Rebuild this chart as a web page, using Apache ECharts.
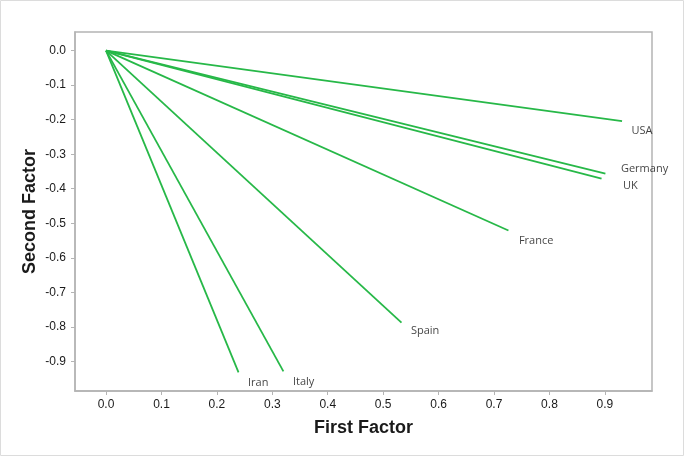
<!DOCTYPE html>
<html>
<head>
<meta charset="utf-8">
<script src="https://cdn.jsdelivr.net/npm/echarts@6/dist/echarts.min.js"></script>
<style>
  html, body { margin: 0; padding: 0; background: #fff; }
  #chart { width: 686px; height: 457px; }
</style>
</head>
<body>
<div id="chart"></div>
<script>
// loadings
const countries = ["USA", "Germany", "UK", "France", "Spain", "Italy", "Iran"];
const firstFactor = [0.931, 0.901, 0.894, 0.726, 0.533, 0.320, 0.239];
const secondFactor = [-0.204, -0.356, -0.371, -0.521, -0.788, -0.929, -0.932];

const xTicks = [0, 0.1, 0.2, 0.3, 0.4, 0.5, 0.6, 0.7, 0.8, 0.9];
const yTicks = [0, -0.1, -0.2, -0.3, -0.4, -0.5, -0.6, -0.7, -0.8, -0.9];

// where each country name sits relative to the end of its line (px)
const labelOffsets = [[10, 10], [16, -4], [22, 8], [11, 11], [10, 9], [10, 11], [10, 11]];

const lineColor = "#27b848";
const frameColor = "#b4b4b4";

const chart = echarts.init(document.getElementById("chart"));

// one straight line per country, from the origin to its loading
const lineSeries = countries.map((name, i) => ({
    name: name,
    type: "line",
    data: [[0, 0], [firstFactor[i], secondFactor[i]]],
    showSymbol: false,
    lineStyle: { color: lineColor, width: 1.8 },
    silent: true,
}));

// names next to the line ends
const labelSeries = {
    type: "scatter",
    symbolSize: 1,
    itemStyle: { color: "rgba(0,0,0,0)" },
    silent: true,
    data: countries.map((name, i) => ({
        value: [firstFactor[i], secondFactor[i]],
        name: name,
        label: {
            show: true,
            position: labelOffsets[i],
            formatter: "{b}",
            align: "left",
            verticalAlign: "middle",
            fontFamily: "Open Sans",
            fontSize: 11,
            color: "#111",
        },
    })),
};

const option = {
    animation: false,
    grid: {
        left: 75,
        right: 34,
        top: 32,
        bottom: 66,
        show: true,
        borderColor: frameColor,
        borderWidth: 1.5,
    },
    xAxis: {
        type: "value",
        min: -0.056,
        max: 0.985,
        name: "First Factor",
        nameLocation: "middle",
        nameGap: 28,
        nameMoveOverlap: false,
        nameTextStyle: { fontFamily: "Liberation Sans", fontWeight: "bold", fontSize: 18, color: "#1a1a1a" },
        axisLine: { show: true, onZero: false, lineStyle: { color: frameColor, width: 1.5 } },
        axisTick: { show: true, length: 4, customValues: xTicks, lineStyle: { color: frameColor } },
        axisLabel: {
            customValues: xTicks,
            margin: 8,
            fontFamily: "Liberation Sans",
            fontSize: 12,
            color: "#1a1a1a",
            formatter: v => v.toFixed(1),
        },
        splitLine: { show: false },
    },
    yAxis: {
        type: "value",
        min: -0.986,
        max: 0.054,
        name: "Second Factor",
        nameLocation: "middle",
        nameGap: 36,
        nameMoveOverlap: false,
        nameTextStyle: { fontFamily: "Liberation Sans", fontWeight: "bold", fontSize: 18, color: "#1a1a1a" },
        axisLine: { show: true, onZero: false, lineStyle: { color: frameColor, width: 1.5 } },
        axisTick: { show: true, length: 4, customValues: yTicks, lineStyle: { color: frameColor } },
        axisLabel: {
            customValues: yTicks,
            margin: 9,
            fontFamily: "Liberation Sans",
            fontSize: 12,
            color: "#1a1a1a",
            formatter: v => (Math.abs(v) < 1e-9 ? "0.0" : v.toFixed(1)),
        },
        splitLine: { show: false },
    },
    // thin frame round the whole picture
    graphic: [{
        type: "rect",
        shape: { x: 0.5, y: 0.5, width: 683, height: 455 },
        style: { fill: "none", stroke: "#dcdcdc", lineWidth: 1 },
        silent: true,
    }],
    series: [...lineSeries, labelSeries],
};

chart.setOption(option);
</script>
</body>
</html>
